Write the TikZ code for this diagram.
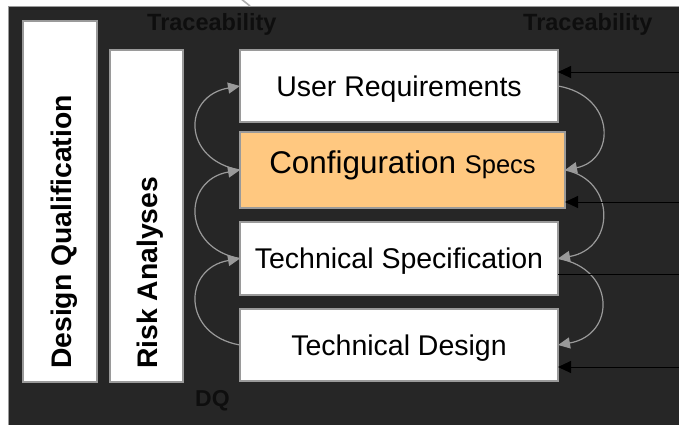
\documentclass[tikz,border=0pt]{standalone}
\usepackage{fontspec}
\setmainfont{Liberation Sans}
\usetikzlibrary{arrows.meta}
\definecolor{bgdark}{HTML}{262626}
\definecolor{edgegray}{HTML}{9A9A9A}
\definecolor{orangebox}{HTML}{FFC880}
\definecolor{tracetext}{HTML}{0E0E0E}
\tikzset{
  x=1pt, y=-1pt,
  box/.style={draw=edgegray, line width=1.3pt, fill=white, inner sep=0pt, outer sep=0pt},
  boxtext/.style={font=\fontsize{28.5}{34}\selectfont, text height=20.4pt, text depth=0pt},
  vtext/.style={font=\bfseries\fontsize{28.3}{34}\selectfont, rotate=90, anchor=base west, inner sep=0pt},
  trace/.style={font=\bfseries\fontsize{23.5}{28}\selectfont, text=tracetext, anchor=base west, inner sep=0pt},
  flow/.style={draw=edgegray, line width=1.2pt, -{Triangle[length=12pt,width=11pt]}, fill=none},
  link/.style={draw=black, line width=1pt, -{Triangle[length=13pt,width=12pt]}},
  plainlink/.style={draw=black, line width=1pt}
}
\begin{document}
\begin{tikzpicture}
\useasboundingbox (0,0) rectangle (679,424);
\fill[white] (0,0) rectangle (679,424);
\draw[draw=edgegray, line width=1.5pt, fill=bgdark] (8.5,6.5) rectangle (700,440);
\draw[draw=edgegray!80, line width=1.6pt] (240,-2) -- (250,6);

% vertical boxes
\node[box, minimum width=74pt, minimum height=361pt] (dq) at (60,201.5) {};
\node[box, minimum width=73pt, minimum height=332pt] (ra) at (146.5,216) {};
\node[vtext] (dqt) at (71,369) {Design Qualification};
\node[vtext] (rat) at (157,369) {Risk Analyses};

% stacked boxes
\node[box, boxtext, minimum width=318pt, minimum height=72pt] (ur) at (399,86) {User Requirements};
\node[box, fill=orangebox, minimum width=325pt, minimum height=76pt, text height=6pt, text depth=0pt] (cs) at (402.5,170)
  {\fontsize{31.4}{36}\selectfont Configuration {\fontsize{25.5}{30}\selectfont Specs}};
\node[box, boxtext, minimum width=318pt, minimum height=73pt] (ts) at (399,258.5) {Technical Specification};
\node[box, boxtext, minimum width=318pt, minimum height=72pt] (td) at (399,345) {Technical Design};

% labels
\node[trace] (tr1) at (147,30) {Traceability};
\node[trace] (tr2) at (523,30) {Traceability};
\node[trace, font=\bfseries\fontsize{23}{28}\selectfont] (dql) at (195,406) {DQ};

% left curved arrows
\draw[flow] (cs.west) .. controls +(-58,-10) and +(-58,10) .. (ur.west);
\draw[flow] (ts.west) .. controls +(-58,-10) and +(-58,10) .. (cs.west);
\draw[flow] (td.west) .. controls +(-58,-10) and +(-58,10) .. (ts.west);

% right curved arrows
\draw[flow] (ur.east) .. controls +(58,10) and +(51,-10) .. (cs.east);
\draw[flow] (cs.east) .. controls +(51,10) and +(58,-10) .. (ts.east);
\draw[flow] (ts.east) .. controls +(58,10) and +(58,-10) .. (td.east);

% traceability links
\coordinate (r1) at (680,72);
\coordinate (r2) at (680,202);
\coordinate (r3) at (680,274);
\coordinate (r4) at (680,367);
\draw[link] (r1) -- (ur.east |- r1);
\draw[link] (r2) -- (cs.east |- r2);
\draw[plainlink] (r3) -- (ts.east |- r3);
\draw[link] (r4) -- (td.east |- r4);
\end{tikzpicture}
\end{document}
